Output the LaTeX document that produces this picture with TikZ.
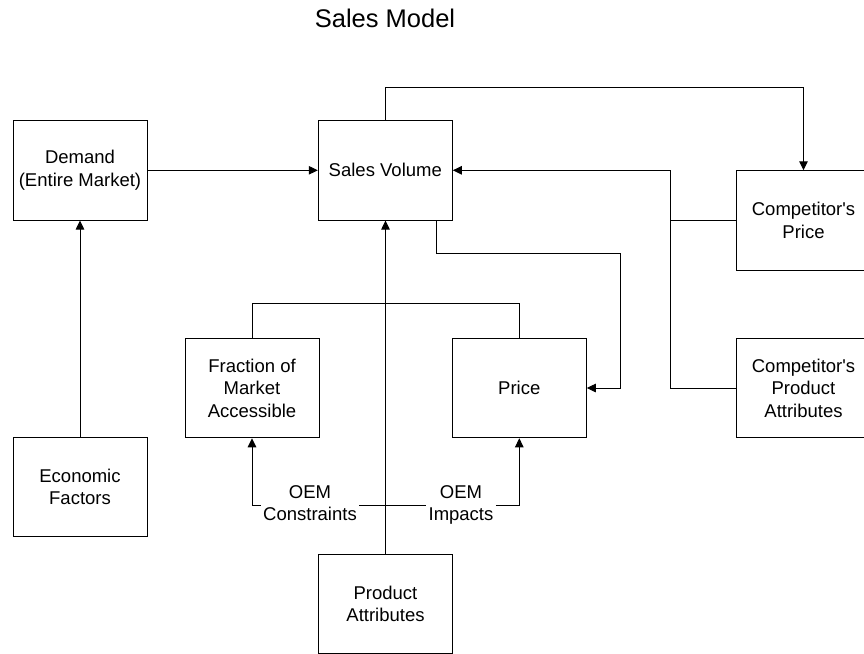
\documentclass[tikz,border=0pt]{standalone}
\usepackage{fontspec}
\setmainfont{Liberation Sans}[Ligatures=TeXOff]
\usetikzlibrary{arrows.meta}
\begin{document}
\begin{tikzpicture}[x=1pt,y=-1pt,
  every path/.style={line width=1pt},
  box/.style={draw, rectangle, minimum width=134pt, minimum height=99.5pt,
    inner sep=0pt, align=center, font=\fontsize{18.5pt}{22.5pt}\selectfont},
  lbl/.style={inner xsep=2pt, inner ysep=0pt, align=center,
    font=\fontsize{18.5pt}{22.5pt}\selectfont},
  arr/.style={-{Triangle[length=9pt,width=8.5pt]}}]
\useasboundingbox (0,0) rectangle (864,653);
\node[anchor=base, font=\fontsize{25.5pt}{30pt}\selectfont] (title) at (385,27.3) {Sales Model};
\node[box] (dem) at (80,170.3) {Demand\\(Entire Market)};
\node[box] (sv)  at (385.3,170.3) {Sales Volume};
\node[box] (cp)  at (803.5,220.5) {Competitor's\\Price};
\node[box] (fr)  at (252,388) {Fraction of\\Market\\Accessible};
\node[box] (pr)  at (519.3,388) {Price};
\node[box] (cpa) at (803.5,388) {Competitor's\\Product\\Attributes};
\node[box] (eco) at (80,487) {Economic\\Factors};
\node[box] (pa)  at (385.5,604) {Product\\Attributes};
\node[lbl] (lc) at (310,505) {OEM\\Constraints\vphantom{p}};
\node[lbl] (li) at (461,505) {OEM\\Impacts};
\coordinate (top) at (0,87);
\coordinate (bus) at (670,170.3);
\coordinate (svb) at (436,220);
\coordinate (pbend) at (620,253.3);
\draw[arr] (dem) -- (sv);
\draw[arr] (eco) -- (dem);
\draw[arr] (sv.north) -- (sv.north |- top) -| (cp.north);
\draw[arr] (cp.west) -| (bus) -- (sv.east);
\draw (cpa.west) -| (bus);
\draw[arr] (svb) |- (pbend) |- (pr.east);
\draw[arr] (pa.north) -- (pa.north |- sv.south);
\draw (fr.north) -- ++(0,-34) -| (pr.north);
\draw (lc.east) -- (li.west);
\draw[arr] (lc.west) -| (fr.south);
\draw[arr] (li.east) -| (pr.south);
\end{tikzpicture}
\end{document}
